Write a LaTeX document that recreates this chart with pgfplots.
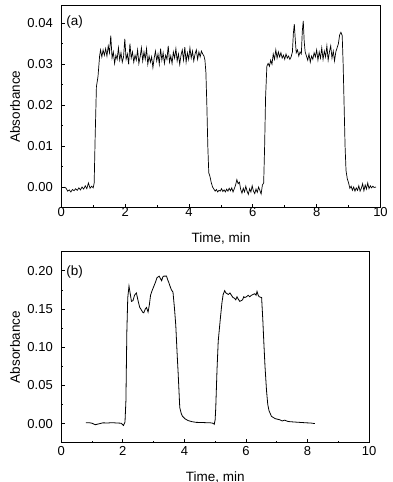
\documentclass[border=0pt]{standalone}
\usepackage{pgfplots}
\pgfplotsset{compat=1.18}
\usepackage{fontspec}
\setmainfont{Liberation Sans}
\newcommand{\tlfont}{\fontsize{13}{15}\selectfont}
\newcommand{\lbfont}{\fontsize{13.5}{16}\selectfont}
\pgfplotsset{every tick label/.append style={font=\tlfont}}
\begin{document}
\begin{tikzpicture}[font=\lbfont]
\useasboundingbox (0pt,0pt) rectangle (392pt,482pt);
\pgfplotsset{
  myaxis/.style={
    scale only axis,
    /pgf/number format/assume math mode=true,
    axis line style={line width=0.9pt},
    tick pos=left,
    tick align=inside,
    major tick length=3.5pt,
    minor tick length=2pt,
    every tick/.style={line width=0.8pt,black},
    minor x tick num=1,
    minor y tick num=1,
    scaled y ticks=false,
    scaled x ticks=false,
    tick label style={font=\tlfont},
    xticklabel={\mbox{\tlfont\pgfmathprintnumber[assume math mode=true]{\tick}}},
    yticklabel={\mbox{\tlfont\pgfmathprintnumber[assume math mode=true,fixed,fixed zerofill,precision=2]{\tick}}},
    yticklabel style={xshift=-5pt},
    xlabel={Time, min},
    ylabel={Absorbance},
    xmin=0, xmax=10, xtick={0,2,...,10},
  }
}
% ---------- panel (a) ----------
\begin{axis}[myaxis,
  at={(61.3pt,274.5pt)}, anchor=south west,
  width=319.2pt, height=201.8pt,
  ymin=-0.005, ymax=0.0443,
  ytick={0,0.01,0.02,0.03,0.04},
  xticklabel style={yshift=3.5pt},
  xlabel style={at={(axis description cs:0.5,-0.154)}, anchor=center},
  ylabel style={at={(axis description cs:-0.145,0.5)}, anchor=center},
]
\addplot[black, line width=0.7pt] coordinates {
(0.10,0.0000)(0.15,-0.0003)(0.20,-0.0010)(0.25,-0.0007)(0.30,-0.0012)(0.35,-0.0006)(0.40,-0.0009)(0.45,-0.0004)(0.50,-0.0008)(0.55,-0.0002)(0.60,-0.0007)(0.65,0.0000)(0.70,-0.0005)(0.75,0.0003)(0.80,-0.0004)(0.85,0.0010)(0.90,-0.0003)(0.95,0.0002)(1.00,-0.0002)(1.03,0.0010)
(1.06,0.0120)(1.10,0.0245)(1.15,0.0270)(1.20,0.0320)(1.23,0.0335)
(1.27,0.0318)(1.31,0.0335)(1.35,0.0322)(1.39,0.0338)(1.43,0.0320)(1.47,0.0345)(1.51,0.0328)(1.55,0.0370)(1.59,0.0315)(1.63,0.0330)(1.67,0.0302)(1.71,0.0322)(1.75,0.0312)(1.79,0.0340)(1.83,0.0310)(1.87,0.0328)(1.91,0.0305)(1.95,0.0318)(1.99,0.0362)(2.03,0.0312)(2.07,0.0325)(2.11,0.0300)(2.15,0.0350)(2.19,0.0315)(2.23,0.0330)(2.27,0.0305)(2.31,0.0322)(2.35,0.0310)(2.39,0.0335)(2.43,0.0302)(2.47,0.0318)(2.51,0.0340)(2.55,0.0308)(2.59,0.0330)(2.63,0.0312)(2.67,0.0338)(2.71,0.0300)(2.75,0.0320)(2.79,0.0305)(2.83,0.0318)(2.87,0.0292)(2.91,0.0315)(2.95,0.0332)(2.99,0.0308)(3.03,0.0325)(3.07,0.0300)(3.11,0.0338)(3.15,0.0310)(3.19,0.0328)(3.23,0.0302)(3.27,0.0322)(3.31,0.0312)(3.35,0.0345)(3.39,0.0305)(3.43,0.0320)(3.47,0.0302)(3.51,0.0330)(3.55,0.0315)(3.59,0.0338)(3.63,0.0308)(3.67,0.0325)(3.71,0.0300)(3.75,0.0322)(3.79,0.0335)(3.83,0.0310)(3.87,0.0342)(3.91,0.0305)(3.95,0.0328)(3.99,0.0312)(4.03,0.0340)(4.07,0.0315)(4.11,0.0332)(4.15,0.0308)(4.19,0.0325)(4.23,0.0335)(4.27,0.0312)(4.31,0.0330)(4.35,0.0318)(4.39,0.0332)(4.43,0.0325)(4.47,0.0320)(4.50,0.0310)
(4.53,0.0280)(4.56,0.0200)(4.59,0.0100)(4.62,0.0035)(4.66,0.0025)(4.70,0.0010)(4.74,0.0000)
(4.78,-0.0005)(4.82,-0.0010)(4.86,-0.0006)(4.90,-0.0012)(4.94,-0.0008)(4.98,-0.0010)(5.02,-0.0004)(5.06,-0.0011)(5.10,-0.0007)(5.14,-0.0012)(5.18,-0.0005)(5.22,-0.0010)(5.26,-0.0003)(5.30,-0.0009)(5.34,-0.0002)(5.38,-0.0012)(5.42,-0.0004)(5.46,0.0005)(5.50,0.0018)(5.54,0.0008)(5.58,0.0012)(5.62,-0.0006)(5.66,-0.0015)(5.70,-0.0003)(5.74,-0.0012)(5.78,0.0002)(5.82,-0.0010)(5.86,-0.0018)(5.90,-0.0004)(5.94,-0.0012)(5.98,0.0003)(6.02,-0.0010)(6.06,-0.0016)(6.10,-0.0005)(6.14,-0.0013)(6.18,0.0000)(6.22,-0.0008)(6.26,-0.0017)(6.30,0.0005)(6.34,0.0010)
(6.37,0.0100)(6.40,0.0220)(6.44,0.0295)(6.48,0.0302)
(6.52,0.0295)(6.56,0.0310)(6.60,0.0300)(6.64,0.0325)(6.68,0.0312)(6.72,0.0335)(6.76,0.0315)(6.80,0.0330)(6.84,0.0318)(6.88,0.0328)(6.92,0.0315)(6.96,0.0322)(7.00,0.0312)(7.04,0.0325)(7.08,0.0315)(7.12,0.0320)(7.16,0.0312)(7.20,0.0318)(7.24,0.0330)(7.27,0.0375)(7.30,0.0398)(7.33,0.0360)(7.36,0.0328)(7.40,0.0335)(7.44,0.0320)(7.48,0.0330)(7.52,0.0325)(7.55,0.0380)(7.58,0.0406)(7.61,0.0355)(7.64,0.0330)(7.68,0.0320)(7.72,0.0310)(7.76,0.0325)(7.80,0.0305)(7.84,0.0320)(7.88,0.0312)(7.92,0.0328)(7.96,0.0318)(8.00,0.0335)(8.04,0.0310)(8.08,0.0330)(8.12,0.0315)(8.16,0.0340)(8.20,0.0312)(8.24,0.0332)(8.28,0.0318)(8.32,0.0345)(8.36,0.0310)(8.40,0.0330)(8.44,0.0345)(8.48,0.0315)(8.52,0.0332)(8.56,0.0308)(8.60,0.0330)(8.64,0.0340)(8.68,0.0350)(8.72,0.0372)(8.76,0.0378)(8.80,0.0370)
(8.83,0.0300)(8.86,0.0200)(8.89,0.0100)(8.92,0.0040)(8.96,0.0020)(9.00,0.0010)
(9.04,-0.0003)(9.08,0.0002)(9.12,-0.0008)(9.16,0.0000)(9.20,-0.0010)(9.24,-0.0002)(9.28,-0.0008)(9.32,0.0003)(9.36,-0.0010)(9.40,-0.0003)(9.44,0.0008)(9.48,-0.0009)(9.52,0.0005)(9.56,-0.0005)(9.60,0.0010)(9.64,-0.0004)(9.68,0.0003)(9.72,-0.0002)(9.76,0.0002)(9.80,-0.0001)(9.86,0.0000)
};
\node[anchor=center] at (rel axis cs:0.042,0.919) {(a)};
\end{axis}
% ---------- panel (b) ----------
\begin{axis}[myaxis,
  at={(61.3pt,39.3pt)}, anchor=south west,
  width=307.7pt, height=191pt,
  ymin=-0.025, ymax=0.225,
  ytick={0,0.05,0.10,0.15,0.20},
  xlabel style={at={(axis description cs:0.5,-0.18)}, anchor=center},
  ylabel style={at={(axis description cs:-0.150,0.5)}, anchor=center},
]
\addplot[black, line width=0.8pt] coordinates {
(0.80,0.0010)(0.90,0.0012)(1.00,0.0005)(1.10,-0.0015)(1.20,-0.0005)(1.35,0.0010)(1.50,0.0008)(1.65,0.0012)(1.80,0.0008)(1.95,0.0005)(2.02,-0.0025)(2.07,0.0020)
(2.10,0.0300)(2.13,0.1200)(2.16,0.1650)(2.20,0.1800)(2.24,0.1700)(2.28,0.1600)(2.33,0.1610)(2.38,0.1680)(2.44,0.1710)(2.50,0.1600)(2.55,0.1520)(2.60,0.1490)(2.64,0.1460)(2.68,0.1450)(2.73,0.1500)(2.77,0.1520)(2.82,0.1460)(2.86,0.1550)(2.90,0.1680)(2.95,0.1740)(3.00,0.1790)(3.06,0.1850)(3.11,0.1910)(3.18,0.1930)(3.22,0.1900)(3.26,0.1870)(3.30,0.1920)(3.33,0.1930)(3.38,0.1930)(3.42,0.1930)(3.46,0.1880)(3.50,0.1840)(3.55,0.1780)(3.58,0.1750)(3.63,0.1720)
(3.68,0.1500)(3.72,0.1290)(3.76,0.0950)(3.80,0.0640)(3.85,0.0210)(3.90,0.0130)(3.94,0.0095)(4.03,0.0060)(4.12,0.0040)(4.25,0.0025)(4.39,0.0016)(4.55,0.0015)(4.70,0.0012)(4.85,0.0010)(4.93,0.0005)(4.97,-0.0010)(5.00,0.0050)
(5.02,0.0210)(5.06,0.0700)(5.10,0.1080)(5.17,0.1380)(5.22,0.1580)(5.26,0.1690)(5.31,0.1740)(5.35,0.1710)(5.39,0.1700)(5.43,0.1690)(5.48,0.1710)(5.53,0.1680)(5.58,0.1650)(5.63,0.1640)(5.67,0.1620)(5.71,0.1660)(5.75,0.1630)(5.80,0.1600)(5.85,0.1610)(5.89,0.1620)(5.93,0.1660)(5.96,0.1650)(6.02,0.1660)(6.07,0.1680)(6.12,0.1660)(6.18,0.1680)(6.23,0.1690)(6.29,0.1700)(6.33,0.1680)(6.36,0.1730)(6.40,0.1680)(6.43,0.1660)(6.51,0.1650)
(6.55,0.1350)(6.58,0.1080)(6.62,0.0750)(6.67,0.0430)(6.71,0.0250)(6.75,0.0170)(6.83,0.0095)(6.95,0.0065)(7.10,0.0050)(7.18,0.0035)(7.26,0.0045)(7.35,0.0030)(7.43,0.0025)(7.60,0.0020)(7.75,0.0016)(7.90,0.0012)(7.97,0.0010)(8.10,0.0008)(8.24,0.0000)
};
\node[anchor=center] at (rel axis cs:0.043,0.893) {(b)};
\end{axis}
\end{tikzpicture}
\end{document}
